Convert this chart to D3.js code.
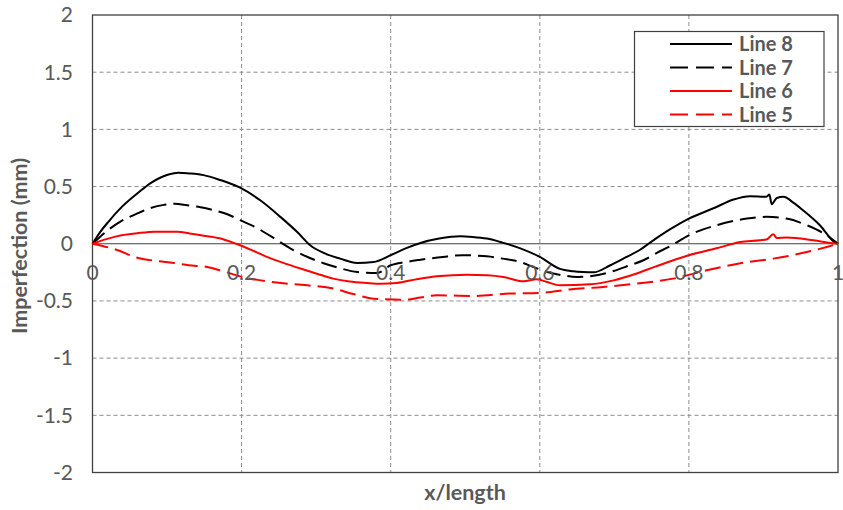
<!DOCTYPE html>
<html><head><meta charset="utf-8">
<script src="https://cdn.jsdelivr.net/npm/d3@7"></script>
<style>body{margin:0;background:#fff}svg{display:block}text{font-family:Lato,"Open Sans",sans-serif}</style>
</head><body><svg id="c" width="843" height="510"></svg>
<script>
const xTicks=[0,0.2,0.4,0.6,0.8,1];
const xTickLabels=["0","0.2","0.4","0.6","0.8","1"];
const yTicks=[2,1.5,1,0.5,0,-0.5,-1,-1.5,-2];
const yTickLabels=["2","1.5","1","0.5","0","-0.5","-1","-1.5","-2"];
const seriesNames=["Line 8","Line 7","Line 6","Line 5"];
const line8X=[0,0.01,0.021,0.039,0.062,0.079,0.09,0.102,0.115,0.13,0.14,0.149,0.17,0.198,0.225,0.252,0.275,0.292,0.31,0.332,0.355,0.377,0.40,0.42,0.44,0.465,0.493,0.51,0.529,0.55,0.574,0.60,0.627,0.645,0.658,0.672,0.694,0.715,0.735,0.748,0.775,0.80,0.833,0.86,0.882,0.904,0.908,0.911,0.918,0.927,0.94,0.953,0.976,0.996,1];
const line8Y=[0,0.1,0.19,0.32,0.45,0.535,0.575,0.605,0.62,0.615,0.61,0.60,0.56,0.49,0.38,0.235,0.10,-0.013,-0.08,-0.13,-0.168,-0.16,-0.10,-0.04,0.007,0.045,0.066,0.06,0.045,0.01,-0.04,-0.115,-0.22,-0.24,-0.247,-0.25,-0.19,-0.12,-0.05,0.01,0.127,0.22,0.31,0.387,0.416,0.41,0.43,0.346,0.40,0.41,0.36,0.293,0.16,0.01,0];
const line7X=[0,0.01,0.021,0.039,0.062,0.079,0.096,0.11,0.127,0.145,0.163,0.18,0.198,0.22,0.239,0.27,0.29,0.31,0.33,0.355,0.382,0.40,0.42,0.44,0.47,0.497,0.529,0.55,0.574,0.59,0.61,0.63,0.65,0.672,0.699,0.72,0.739,0.757,0.775,0.80,0.837,0.878,0.904,0.931,0.958,0.985,1];
const line7Y=[0,0.06,0.12,0.2,0.27,0.315,0.34,0.35,0.337,0.32,0.293,0.26,0.206,0.14,0.066,-0.057,-0.12,-0.17,-0.21,-0.247,-0.255,-0.188,-0.16,-0.14,-0.115,-0.10,-0.11,-0.13,-0.16,-0.2,-0.247,-0.275,-0.29,-0.28,-0.238,-0.19,-0.144,-0.08,-0.02,0.074,0.162,0.22,0.235,0.22,0.162,0.074,0];
const line6X=[0,0.011,0.021,0.039,0.06,0.084,0.114,0.13,0.154,0.175,0.198,0.215,0.234,0.255,0.279,0.30,0.323,0.345,0.368,0.386,0.408,0.435,0.462,0.502,0.53,0.551,0.578,0.596,0.61,0.627,0.668,0.699,0.73,0.755,0.779,0.80,0.837,0.869,0.895,0.905,0.913,0.918,0.931,0.967,0.993,1];
const line6Y=[0,0.025,0.045,0.074,0.092,0.105,0.104,0.09,0.066,0.04,-0.013,-0.06,-0.115,-0.165,-0.217,-0.26,-0.305,-0.33,-0.343,-0.35,-0.343,-0.31,-0.285,-0.27,-0.275,-0.29,-0.328,-0.31,-0.335,-0.363,-0.355,-0.32,-0.26,-0.2,-0.144,-0.1,-0.04,0.016,0.03,0.04,0.083,0.05,0.054,0.03,0.005,0];
const line5X=[0,0.034,0.059,0.085,0.109,0.129,0.154,0.175,0.198,0.239,0.288,0.323,0.35,0.377,0.417,0.44,0.462,0.507,0.56,0.60,0.64,0.685,0.73,0.779,0.824,0.869,0.913,0.949,0.985,1];
const line5Y=[0,-0.057,-0.12,-0.15,-0.168,-0.188,-0.203,-0.24,-0.285,-0.334,-0.363,-0.392,-0.44,-0.48,-0.49,-0.47,-0.45,-0.457,-0.436,-0.43,-0.40,-0.378,-0.348,-0.305,-0.232,-0.17,-0.13,-0.086,-0.028,0];

const series=[
 {name:seriesNames[0],xs:line8X,ys:line8Y,color:"#000000",dash:null},
 {name:seriesNames[1],xs:line7X,ys:line7Y,color:"#000000",dash:"16,7"},
 {name:seriesNames[2],xs:line6X,ys:line6Y,color:"#ff0000",dash:null},
 {name:seriesNames[3],xs:line5X,ys:line5Y,color:"#ff0000",dash:"16,7"}
];
const L=92.5,R=838,T=15,B=472.5;
const svg=d3.select("#c");
const x=d3.scaleLinear().domain([0,1]).range([L,R]);
const y=d3.scaleLinear().domain([-2,2]).range([B,T]);
const grey="#595959";
// gridlines
svg.append("g").selectAll("line").data(yTicks.filter(v=>v!==0&&v!==2&&v!==-2)).join("line")
 .attr("x1",L).attr("x2",R).attr("y1",d=>y(d)).attr("y2",d=>y(d))
 .attr("stroke","#8c8c8c").attr("stroke-width",1).attr("stroke-dasharray","4,3");
svg.append("g").selectAll("line").data(xTicks.filter(v=>v!==0&&v!==1)).join("line")
 .attr("x1",d=>x(d)).attr("x2",d=>x(d)).attr("y1",T).attr("y2",B)
 .attr("stroke","#8c8c8c").attr("stroke-width",1).attr("stroke-dasharray","4,3");
// plot border
svg.append("rect").attr("x",L).attr("y",T).attr("width",R-L).attr("height",B-T)
 .attr("fill","none").attr("stroke","#404040").attr("stroke-width",1.3);
// zero axis line
svg.append("line").attr("x1",L).attr("x2",R).attr("y1",y(0)).attr("y2",y(0))
 .attr("stroke","#404040").attr("stroke-width",1.2);
// y tick labels
svg.append("g").selectAll("text").data(yTicks).join("text")
 .attr("x",73).attr("y",d=>y(d)).attr("dy","0.35em").attr("text-anchor","end")
 .attr("fill",grey).attr("font-size",21).text((d,i)=>yTickLabels[i]);
// lines
const lineGen=d3.line().x(d=>x(d[0])).y(d=>y(d[1])).curve(d3.curveMonotoneX);
series.forEach(s=>{
 const pts=s.xs.map((v,i)=>[v,s.ys[i]]);
 svg.append("path").datum(pts).attr("d",lineGen).attr("fill","none")
  .attr("stroke",s.color).attr("stroke-width",2).attr("stroke-dasharray",s.dash);
});
// x tick labels (at y=0 axis)
svg.append("g").selectAll("text").data(xTicks).join("text")
 .attr("x",d=>x(d)).attr("y",y(0)+36).attr("text-anchor","middle")
 .attr("fill",grey).attr("font-size",21).text((d,i)=>xTickLabels[i]);
// axis titles
svg.append("text").attr("x",465).attr("y",500).attr("text-anchor","middle")
 .attr("fill",grey).attr("font-size",21.5).attr("font-weight","bold").text("x/length");
svg.append("text").attr("transform","translate(27,246) rotate(-90)").attr("text-anchor","middle")
 .attr("fill",grey).attr("font-size",21.5).attr("font-weight","bold").text("Imperfection (mm)");
// legend
const lg=svg.append("g");
lg.append("rect").attr("x",634.5).attr("y",31.5).attr("width",189.5).attr("height",95)
 .attr("fill","#fff").attr("stroke","#404040").attr("stroke-width",1.2);
series.forEach((s,i)=>{
 const yy=44+i*23.5;
 lg.append("line").attr("x1",670).attr("x2",732).attr("y1",yy).attr("y2",yy)
  .attr("stroke",s.color).attr("stroke-width",2).attr("stroke-dasharray",s.dash?"18,8":null);
 lg.append("text").attr("x",739).attr("y",yy).attr("dy","0.35em").attr("fill",grey)
  .attr("font-size",20).attr("font-weight","bold").text(s.name);
});
</script></body></html>
